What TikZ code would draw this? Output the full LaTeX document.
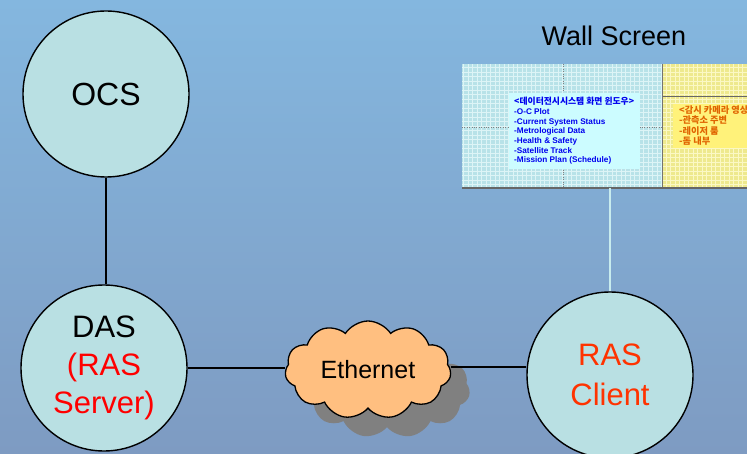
\documentclass[tikz,border=0pt]{standalone}
\usepackage{fontspec}
\setmainfont{Liberation Sans}
\newfontfamily\kr{Noto Sans CJK KR}
\usetikzlibrary{shapes.symbols}
\definecolor{bgtop}{HTML}{84B7DF}
\definecolor{bgbot}{HTML}{7E9BC2}
\definecolor{bubblefill}{HTML}{B9E0E3}
\definecolor{cloudfill}{HTML}{FFBF80}
\definecolor{shadowgray}{HTML}{808080}
\definecolor{rasred}{HTML}{FF0000}
\definecolor{rasorange}{HTML}{FF3300}
\definecolor{scrcyan}{HTML}{B8E2E8}
\definecolor{scrcyangrid}{HTML}{DDF4F6}
\definecolor{scryellow}{HTML}{EEE98E}
\definecolor{scryellowgrid}{HTML}{FBF8C4}
\definecolor{boxcyan}{HTML}{CCFCFF}
\definecolor{boxyellow}{HTML}{FFF27A}
\definecolor{txtblue}{HTML}{0000EE}
\definecolor{txtorange}{HTML}{E06400}
\definecolor{linkcyan}{HTML}{C8ECEE}
\tikzset{
  bubble/.style={circle, draw=black, line width=1.4pt, fill=bubblefill, minimum size=166pt, inner sep=0pt, align=center},
  conn/.style={draw=black, line width=1.5pt},
  bigtxt/.style={font=\fontsize{31}{38}\selectfont},
  cloudshape/.style={cloud, cloud puffs=11, cloud puff arc=115, aspect=1.75, minimum width=166pt, minimum height=98pt, inner sep=0pt},
}
\begin{document}
\begin{tikzpicture}[x=1pt, y=-1pt]
\useasboundingbox (0,0) rectangle (747,454);
\shade[top color=bgtop, bottom color=bgbot] (0,0) rectangle (747,454);

% Wall screen
\node[font=\fontsize{27}{30}\selectfont] (title) at (614,36) {Wall Screen};
\begin{scope}
\clip (0,0) rectangle (747,454);
\fill[scrcyan] (462,64) rectangle (662,188);
\draw[scrcyangrid, line width=0.6pt, step=4.5pt] (462,64) grid (662,188);
\fill[scryellow] (662,64) rectangle (747,188);
\draw[scryellowgrid, line width=0.6pt, step=4.5pt] (662,64) grid (747,188);
\draw[gray, line width=0.4pt, dotted] (462,127) -- (662,127);
\draw[gray, line width=0.4pt, dotted] (563,64) -- (563,188);
\draw[black!60, line width=0.6pt] (662,96) -- (747,96);
\draw[black!55, line width=1pt] (662,64) -- (662,188);
\draw[black!60, line width=1.5pt] (462,188) -- (747,188);
\node[inner sep=0pt, minimum width=285pt, minimum height=124pt, anchor=north west] (screen) at (462,64) {};
\fill[boxcyan] (509,93) rectangle (640,169);
\node[anchor=north west, inner sep=0pt, align=left, text=txtblue, font=\bfseries\fontsize{8.2}{9.7}\selectfont] (datalist) at (514,97)
  {{\kr\fontsize{8.8}{9.7}\selectfont <데이터전시시스템 화면 윈도우>}\\
   -O-C Plot\\
   -Current System Status\\
   -Metrological Data\\
   -Health \& Safety\\
   -Satellite Track\\
   -Mission Plan (Schedule)};
\fill[boxyellow] (673,104) rectangle (760,148);
\node[anchor=north west, inner sep=0pt, align=left, text=txtorange, font=\kr\bfseries\fontsize{9.2}{10.3}\selectfont] (camlist) at (679,105.5)
  {<감시 카메라 영상>\\
   -관측소 주변\\
   -레이저 룸\\
   -돔 내부};
\end{scope}

% Nodes
\node[bubble, bigtxt, font=\fontsize{32}{38}\selectfont] (ocs) at (106,94) {OCS};
\node[bubble, bigtxt] (das) at (104,368) {DAS\\\textcolor{rasred}{(RAS}\\\textcolor{rasred}{Server)}};
\node[bubble, bigtxt, text=rasorange, font=\fontsize{31}{40}\selectfont] (rasc) at (610,375) {RAS\\Client};

\node[cloudshape, fill=shadowgray, draw=none] (ethshadow) at (387,389) {};
\node[cloudshape, fill=cloudfill, draw=black, line width=1.3pt, font=\fontsize{25}{28}\selectfont] (eth) at (368,370) {Ethernet};

% Connectors
\draw[conn] (ocs.south) -- (ocs.south |- das.north);
\draw[conn] (das.east) -- (eth.west |- das.east);
\draw[conn] (eth.east |- 0,367) -- (rasc.west |- 0,367);
\draw[linkcyan, line width=1.5pt] (rasc.north |- screen.south) -- (rasc.north);
\end{tikzpicture}
\end{document}
